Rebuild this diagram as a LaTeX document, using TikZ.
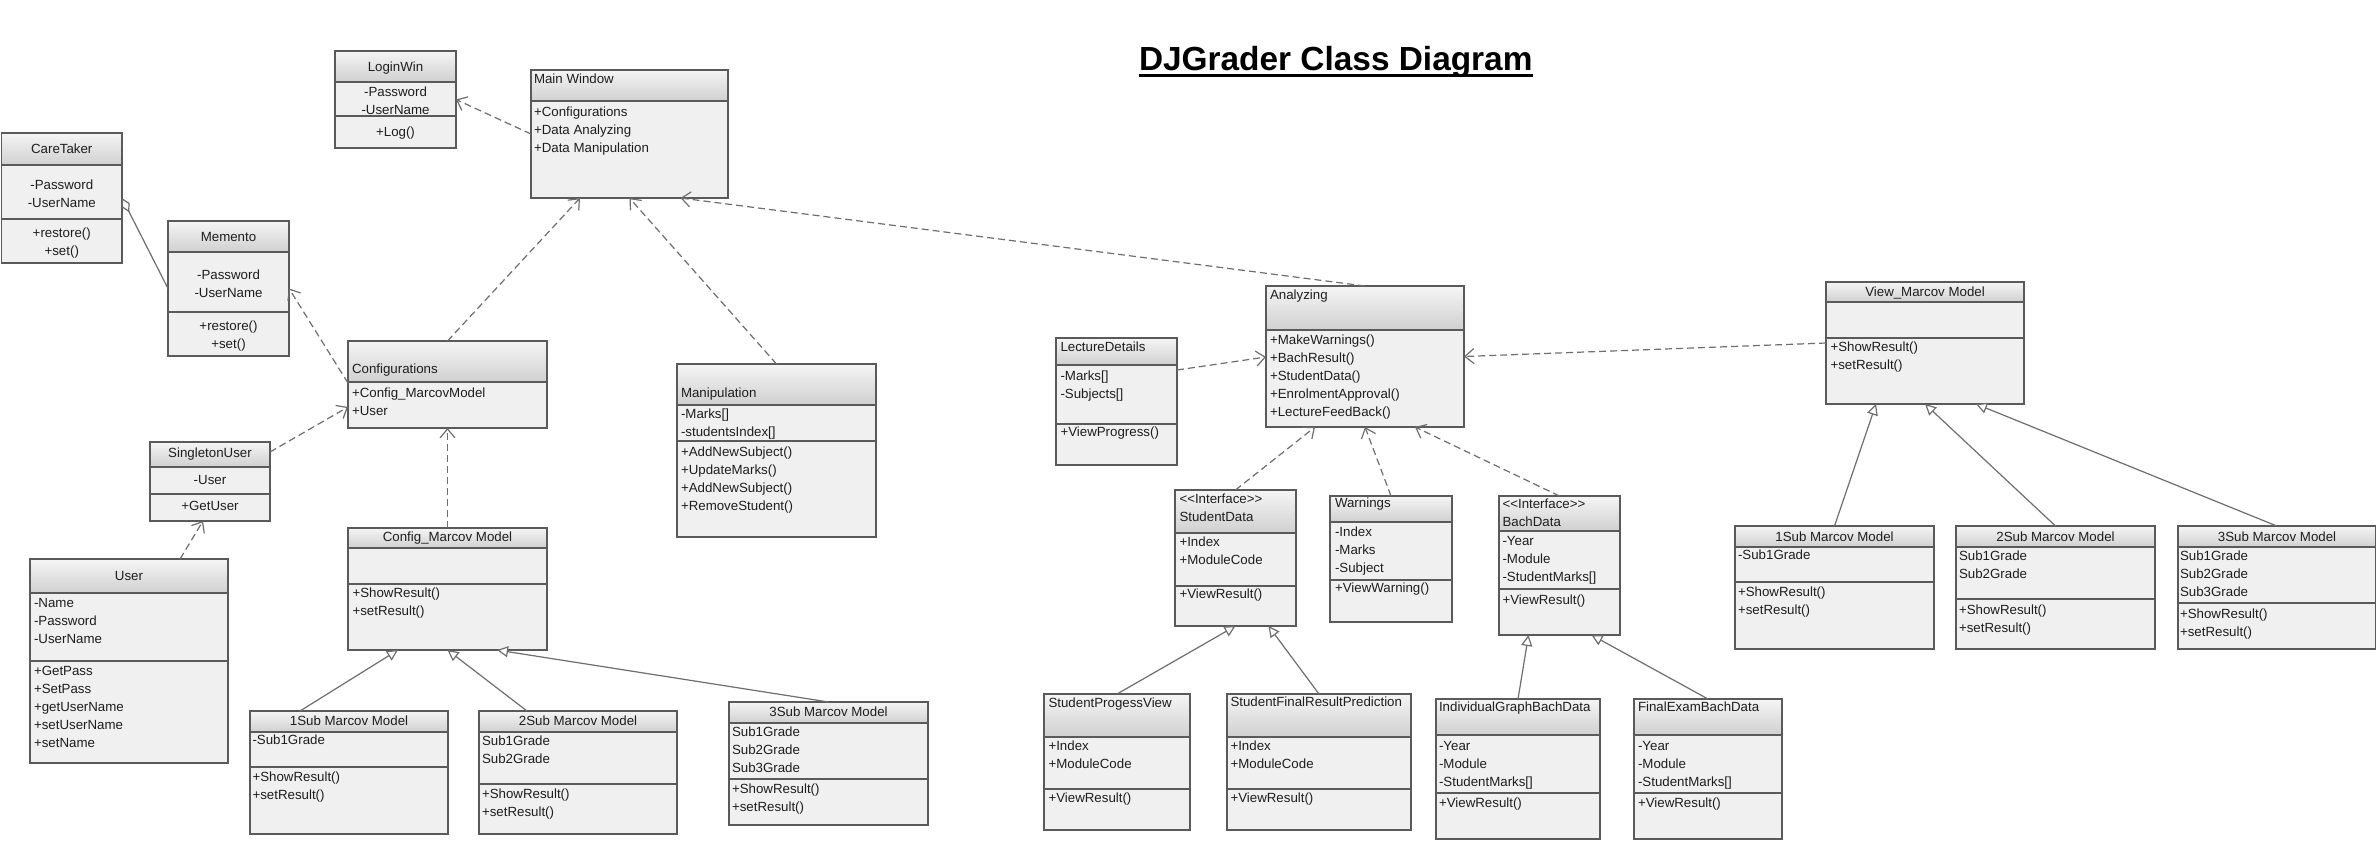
\documentclass[tikz,border=0pt]{standalone}
\usepackage{fontspec}
\setmainfont{Liberation Sans}
\usetikzlibrary{arrows.meta,calc}
\definecolor{bodyc}{HTML}{F0F0F0}
\definecolor{hdtop}{HTML}{F5F5F5}
\definecolor{hdbot}{HTML}{D0D0D0}
\definecolor{bordc}{HTML}{5A5A5A}
\definecolor{linec}{HTML}{6E6E6E}
\definecolor{txtc}{HTML}{1E1E1E}
\tikzset{
 clsbox/.style={rectangle, fill=bodyc, draw=none, inner sep=0pt, outer sep=0pt},
 bord/.style={draw=bordc, line width=1.4pt},
 txt/.style={inner sep=0pt, outer sep=0pt, text=txtc, font=\fontsize{13.3}{18}\selectfont},
 dep/.style={draw=linec, line width=1.2pt, dash pattern=on 7pt off 4pt, -{Straight Barb[length=9pt,width=15pt,line width=1.2pt]}},
 gen/.style={draw=linec, line width=1.2pt, -{Triangle[open,length=11pt,width=11pt,fill=white]}},
 agg/.style={draw=linec, line width=1.2pt, {Diamond[open,length=16pt,width=9pt,fill=white]}-},
}
\newcommand\umlcls[7]{%
 \node[clsbox, anchor=north west, minimum width={#4-#2}, minimum height={#5-#3}] (#1) at (#2,#3) {};
 \shade[top color=hdtop, bottom color=hdbot] (#2,#3) rectangle (#4,#6);
 \draw[bord] (#2,#6) -- (#4,#6) (#2,#7) -- (#4,#7);
 \draw[bord] (#1.north west) rectangle (#1.south east);
}
\newcommand\clsleft[4]{\foreach \t [count=\i] in {#4}{\node[txt, anchor=base west] (#1\i) at (#2,{#3+18*(\i-1)}) {\t};}}
\newcommand\clscent[4]{\foreach \t [count=\i] in {#4}{\node[txt, anchor=base] (#1\i) at (#2,{#3+18*(\i-1)}) {\t};}}
\newcommand\ifc{<{}<Interface>{}>}
\begin{document}
\begin{tikzpicture}[x=1pt,y=-1pt]
\useasboundingbox (0,0) rectangle (2377,841);
\fill[white] (0,0) rectangle (2377,841);

% title
\node[inner sep=0pt, outer sep=0pt, anchor=base west, font=\fontsize{33.4}{40}\selectfont\bfseries] (title) at (1139,70) {DJGrader Class Diagram};
\draw[line width=2.6pt] ([yshift=-5.5pt]title.base west) -- ([yshift=-5.5pt]title.base east);

% boxes
\umlcls{login}{335}{51}{456}{148}{82}{116}
\umlcls{mainwin}{531}{70}{728}{198}{101}{101}
\umlcls{care}{1.5}{133}{122}{263}{165}{219}
\umlcls{memento}{168}{221}{289}{356}{252}{312}
\umlcls{conf}{348}{341}{547}{428}{382}{382}
\umlcls{manip}{677}{364}{876}{537}{405}{441}
\umlcls{single}{150}{442}{270}{521}{467}{494}
\umlcls{user}{30}{559}{228}{763}{593}{661}
\umlcls{cm}{348}{528}{547}{650}{548}{584}
\umlcls{subA}{250}{711}{448}{834}{732}{767}
\umlcls{subB}{479}{711}{677}{834}{732}{784}
\umlcls{subC}{729}{702}{928}{825}{723}{779}
\umlcls{lect}{1056}{338}{1177}{465}{365}{424}
\umlcls{anal}{1266}{286}{1464}{427}{330}{330}
\umlcls{sdata}{1175}{490}{1296}{626}{533}{586}
\umlcls{warn}{1330}{496}{1452}{622}{522}{580}
\umlcls{bach}{1499}{496}{1620}{635}{531}{589}
\umlcls{spv}{1044}{694}{1190}{830}{737}{789}
\umlcls{sfrp}{1227}{694}{1411}{830}{737}{789}
\umlcls{igbd}{1436}{699}{1600}{839}{735}{793}
\umlcls{febd}{1634}{699}{1782}{839}{735}{793}
\umlcls{view}{1826}{282}{2024}{404}{302}{338}
\umlcls{rA}{1735}{526}{1934}{649}{547}{582}
\umlcls{rB}{1956}{526}{2155}{649}{547}{599}
\umlcls{rC}{2178}{526}{2375.5}{649}{547}{603}

% texts
\clscent{loginh}{395.5}{71.5}{LoginWin}
\clscent{logina}{395.5}{96}{-Password,-UserName}
\clscent{loginm}{395.5}{136}{+Log()}
\clsleft{mainh}{534}{83}{Main Window}
\clsleft{maina}{534}{116}{+Configurations,+Data Analyzing,+Data Manipulation}
\clscent{careh}{61.75}{153}{CareTaker}
\clscent{carea}{61.75}{189}{-Password,-UserName}
\clscent{carem}{61.75}{237}{+restore(),+set()}
\clscent{memh}{228.5}{241}{Memento}
\clscent{mema}{228.5}{279.5}{-Password,-UserName}
\clscent{memm}{228.5}{330}{+restore(),+set()}
\clsleft{confh}{352}{373}{Configurations}
\clsleft{confa}{352}{397}{+Config\_MarcovModel,+User}
\clsleft{maniph}{681}{397}{Manipulation}
\clsleft{manipa}{681}{418.5}{-Marks[],-studentsIndex[]}
\clsleft{manipm}{681}{456.5}{+AddNewSubject(),+UpdateMarks(),+AddNewSubject(),+RemoveStudent()}
\clscent{singh}{210}{457}{SingletonUser}
\clscent{singa}{210}{484}{-User}
\clscent{singm}{210}{510}{+GetUser}
\clscent{userh}{129}{580}{User}
\clsleft{usera}{34}{607}{-Name,-Password,-UserName}
\clsleft{userm}{34}{675}{+GetPass,+SetPass,+getUserName,+setUserName,+setName}
\clscent{cmh}{447.5}{541.5}{Config\_Marcov Model}
\clsleft{cmm}{352.5}{597}{+ShowResult(),+setResult()}
\clscent{subAh}{349}{725.5}{1Sub Marcov Model}
\clsleft{subAa}{252.5}{744}{-Sub1Grade}
\clsleft{subAm}{252.5}{781}{+ShowResult(),+setResult()}
\clscent{subBh}{578}{725.5}{2Sub Marcov Model}
\clsleft{subBa}{482}{745}{Sub1Grade,Sub2Grade}
\clsleft{subBm}{482}{798}{+ShowResult(),+setResult()}
\clscent{subCh}{828.5}{716.5}{3Sub Marcov Model}
\clsleft{subCa}{732}{736}{Sub1Grade,Sub2Grade,Sub3Grade}
\clsleft{subCm}{732}{793}{+ShowResult(),+setResult()}
\clsleft{lecth}{1060.5}{351.5}{LectureDetails}
\clsleft{lecta}{1060.5}{380}{-Marks[],-Subjects[]}
\clsleft{lectm}{1060.5}{436.5}{+ViewProgress()}
\clsleft{analh}{1270}{299}{Analyzing}
\clsleft{analm}{1270}{344}{+MakeWarnings(),+BachResult(),+StudentData(),+EnrolmentApproval(),+LectureFeedBack()}
\clsleft{sdh}{1179.5}{503.5}{\ifc,StudentData}
\clsleft{sda}{1179.5}{546.5}{+Index,+ModuleCode}
\clsleft{sdm}{1179.5}{598}{+ViewResult()}
\clsleft{warnh}{1335}{507.5}{Warnings}
\clsleft{warna}{1335}{536.5}{-Index,-Marks,-Subject}
\clsleft{warnm}{1335}{592.5}{+ViewWarning()}
\clsleft{bachh}{1502.5}{508.5}{\ifc,BachData}
\clsleft{bacha}{1502.5}{545.5}{-Year,-Module,-StudentMarks[]}
\clsleft{bachm}{1502.5}{604}{+ViewResult()}
\clsleft{spvh}{1048.5}{707.5}{StudentProgessView}
\clsleft{spva}{1048.5}{750.5}{+Index,+ModuleCode}
\clsleft{spvm}{1048.5}{802}{+ViewResult()}
\clsleft{sfrph}{1230.5}{706.5}{StudentFinalResultPrediction}
\clsleft{sfrpa}{1230.5}{750.5}{+Index,+ModuleCode}
\clsleft{sfrpm}{1230.5}{802}{+ViewResult()}
\clsleft{igbdh}{1439}{711.5}{IndividualGraphBachData}
\clsleft{igbda}{1439}{750}{-Year,-Module,-StudentMarks[]}
\clsleft{igbdm}{1439}{807}{+ViewResult()}
\clsleft{febdh}{1638}{711.5}{FinalExamBachData}
\clsleft{febda}{1638}{750}{-Year,-Module,-StudentMarks[]}
\clsleft{febdm}{1638}{807}{+ViewResult()}
\clscent{viewh}{1925}{296.5}{View\_Marcov Model}
\clsleft{viewm}{1830.5}{351.5}{+ShowResult(),+setResult()}
\clscent{rAh}{1834.5}{541}{1Sub Marcov Model}
\clsleft{rAa}{1738}{559}{-Sub1Grade}
\clsleft{rAm}{1738}{596.5}{+ShowResult(),+setResult()}
\clscent{rBh}{2055.5}{541}{2Sub Marcov Model}
\clsleft{rBa}{1959}{560.5}{Sub1Grade,Sub2Grade}
\clsleft{rBm}{1959}{614}{+ShowResult(),+setResult()}
\clscent{rCh}{2277}{541}{3Sub Marcov Model}
\clsleft{rCa}{2180}{560.5}{Sub1Grade,Sub2Grade,Sub3Grade}
\clsleft{rCm}{2180}{618}{+ShowResult(),+setResult()}

% dependencies
\draw[dep] (mainwin.west) -- (login.east);
\draw[dep] ([yshift=-42pt]conf.north west) -- (memento.east);
\draw[dep] (conf.north) -- ([xshift=-49.5pt]mainwin.south);
\draw[dep] (manip.north) -- (mainwin.south);
\draw[dep] (anal.north) -- ([xshift=51pt]mainwin.south);
\draw[dep] ([yshift=-10pt]single.north east) -- ([yshift=-66pt]conf.north west);
\draw[dep] (cm.north) -- (conf.south);
\draw[dep] ([xshift=51pt]user.north) -- ([xshift=-7pt]single.south);
\draw[dep] ([yshift=-32pt]lect.north east) -- ([yshift=-71pt]anal.north west);
\draw[dep] (view.west) -- (anal.east);
\draw[dep] (sdata.north) -- ([xshift=-50pt]anal.south);
\draw[dep] (warn.north) -- (anal.south);
\draw[dep] (bach.north) -- ([xshift=50pt]anal.south);
% aggregation
\draw[agg] (care.east) -- (memento.west);
% generalizations
\draw[gen] ([xshift=-49pt]subA.north) -- ([xshift=-49.5pt]cm.south);
\draw[gen] ([xshift=-51pt]subB.north) -- (cm.south);
\draw[gen] (subC.north) -- ([xshift=49.5pt]cm.south);
\draw[gen] (spv.north) -- (sdata.south);
\draw[gen] (sfrp.north) -- ([xshift=33pt]sdata.south);
\draw[gen] (igbd.north) -- ([xshift=-31pt]bach.south);
\draw[gen] (febd.north) -- ([xshift=32pt]bach.south);
\draw[gen] (rA.north) -- ([xshift=-49pt]view.south);
\draw[gen] (rB.north) -- (view.south);
\draw[gen] (rC.north) -- ([xshift=51pt]view.south);
\end{tikzpicture}
\end{document}
